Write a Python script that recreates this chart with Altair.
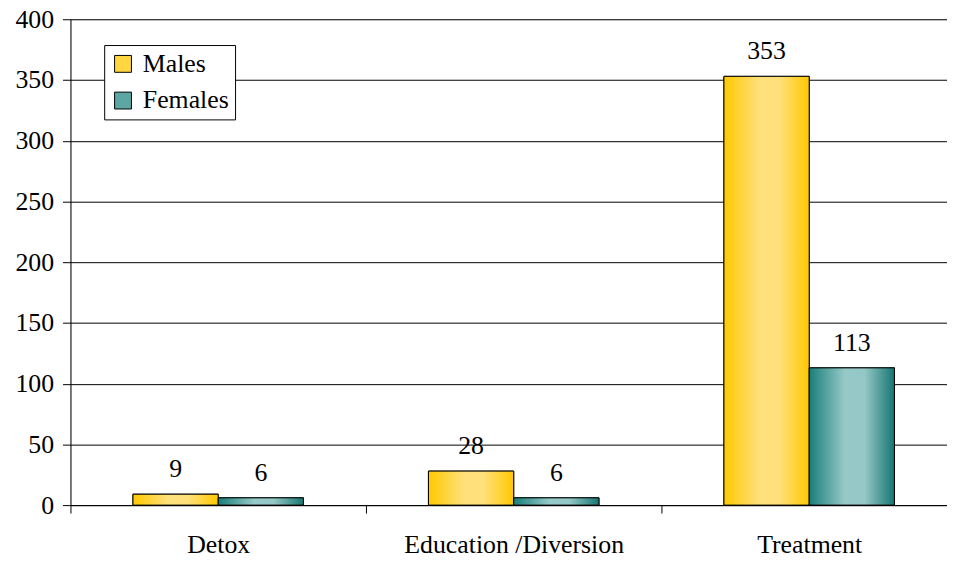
import altair as alt
import pandas as pd

categories = ["Detox", "Education /Diversion", "Treatment"]
series = ["Males", "Females"]
males = [9, 28, 353]
females = [6, 6, 113]
y_ticks = [0, 50, 100, 150, 200, 250, 300, 350, 400]

rows = []
for c, m, f in zip(categories, males, females):
    rows.append({"category": c, "series": "Males", "value": m})
    rows.append({"category": c, "series": "Females", "value": f})
df = pd.DataFrame(rows)

FONT = "serif"

yellow_grad = {
    "gradient": "linear", "x1": 0, "x2": 1, "y1": 0, "y2": 0,
    "stops": [
        {"offset": 0, "color": "#FFC800"},
        {"offset": 0.42, "color": "#FFE17C"},
        {"offset": 0.65, "color": "#FFE07A"},
        {"offset": 1, "color": "#FFC800"},
    ],
}
teal_grad = {
    "gradient": "linear", "x1": 0, "x2": 1, "y1": 0, "y2": 0,
    "stops": [
        {"offset": 0, "color": "#1A7E7A"},
        {"offset": 0.42, "color": "#96C9C7"},
        {"offset": 0.65, "color": "#94C8C6"},
        {"offset": 1, "color": "#167672"},
    ],
}

x = alt.X(
    "category:N",
    sort=categories,
    scale=alt.Scale(range=[0, 894], paddingInner=0.423, paddingOuter=0.2115),
    axis=alt.Axis(
        title=None, labelAngle=0, tickOffset=-149, labelOffset=149, tickSize=8,
        labelPadding=19, labelFontSize=26, labelFont=FONT, labelColor="black",
        labelLimit=0, domainColor="black", tickColor="black", grid=False,
    ),
)
xo = alt.XOffset("series:N", sort=series, scale=alt.Scale(paddingInner=0, paddingOuter=0))
y = alt.Y(
    "value:Q",
    scale=alt.Scale(domain=[0, 400], nice=False),
    axis=alt.Axis(
        title=None, values=y_ticks, grid=True, gridColor="black", gridWidth=1,
        tickSize=8, tickColor="black", domainColor="black", labelPadding=9,
        labelFontSize=26, labelFont=FONT, labelColor="black",
    ),
)

base = alt.Chart(df).encode(x=x, xOffset=xo, y=y)

solid = base.mark_bar(stroke="black", strokeWidth=1).encode(
    color=alt.Color(
        "series:N",
        sort=series,
        scale=alt.Scale(domain=series, range=["#FFD63F", "#5CA7A4"]),
        legend=alt.Legend(
            orient="none", legendX=34, legendY=26, title=None,
            symbolType="square", symbolSize=289, symbolStrokeColor="black",
            symbolStrokeWidth=1, symbolOpacity=1, labelFontSize=26, labelFont=FONT,
            labelColor="black", strokeColor="black", fillColor="white",
            padding=6, rowPadding=11, labelOffset=7, cornerRadius=0,
        ),
    )
)
male_bars = base.transform_filter(alt.datum.series == "Males").mark_bar(
    fill=yellow_grad, stroke="black", strokeWidth=1
)
female_bars = base.transform_filter(alt.datum.series == "Females").mark_bar(
    fill=teal_grad, stroke="black", strokeWidth=1
)
labels = base.mark_text(
    dy=-17, baseline="alphabetic", font=FONT, fontSize=26, color="black"
).encode(text="value:Q")

chart = (
    alt.layer(solid, male_bars, female_bars, labels)
    .properties(
        width=884,
        height=490,
        autosize=alt.AutoSizeParams(type="none"),
        padding={"left": 63, "top": 9, "right": 0, "bottom": 54},
    )
    .configure_view(stroke=None)
    .configure(background="white", font=FONT)
)

chart.save("out.html", embed_options={"renderer": "svg", "actions": False})
